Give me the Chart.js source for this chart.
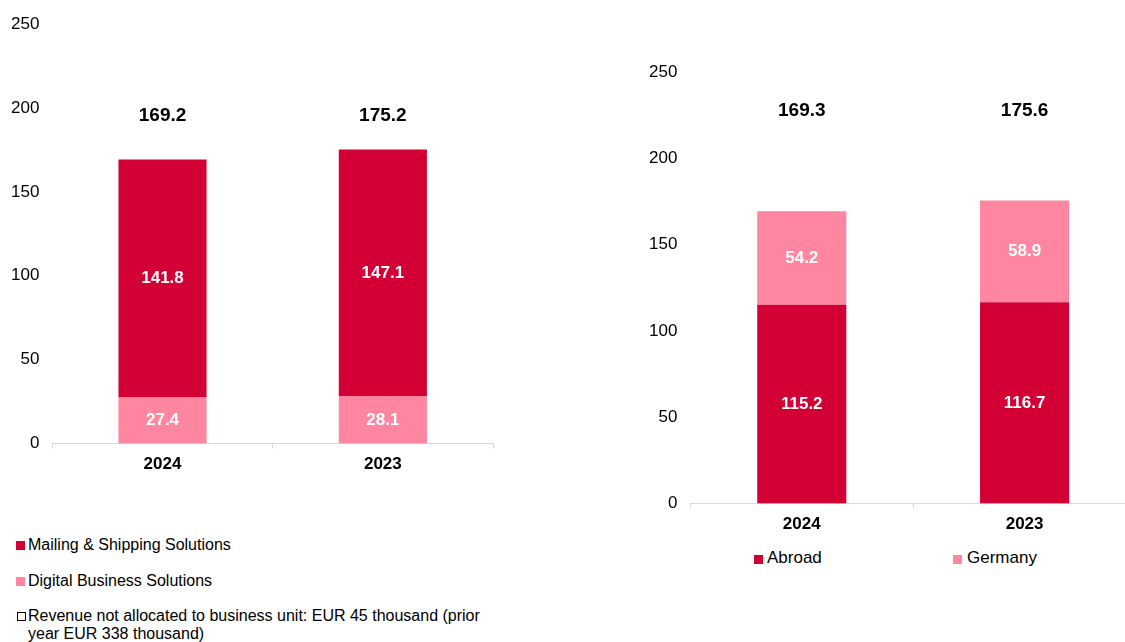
<!DOCTYPE html>
<html>
<head>
<meta charset="utf-8">
<script src="https://cdn.jsdelivr.net/npm/chart.js@4"></script>
<style>
  html, body { margin: 0; padding: 0; background: #fff; overflow: hidden; }
  body { width: 1125px; height: 642px; position: relative; font-family: "Liberation Sans", Arial, sans-serif; color: #000; }
  .box { position: absolute; }
  #leftBox { left: 0; top: 0; width: 500px; height: 482px; }
  #rightBox { left: 630px; top: 0; width: 510px; height: 542px; }
  .legend { position: absolute; line-height: 18px; }
  .legend .item { position: absolute; white-space: nowrap; }
  .legend .sw { position: absolute; width: 9px; height: 9px; }
</style>
</head>
<body>
<div class="box" id="leftBox"><canvas id="segmentChart"></canvas></div>
<div class="box" id="rightBox"><canvas id="regionChart"></canvas></div>

<div class="legend" id="leftLegend" style="left:0;top:0;font-size:16px;">
  <div class="sw" style="left:16px;top:541px;background:#d20034;"></div>
  <div class="item" style="left:28px;top:536px;">Mailing &amp; Shipping Solutions</div>
  <div class="sw" style="left:16px;top:577px;background:#ff86a0;"></div>
  <div class="item" style="left:28px;top:572px;">Digital Business Solutions</div>
  <div class="sw" style="left:17px;top:612px;width:7px;height:7px;border:1px solid #000;"></div>
  <div class="item" style="left:28px;top:607px;white-space:normal;width:470px;">Revenue not allocated to business unit: EUR 45 thousand (prior year EUR 338 thousand)</div>
</div>
<div class="legend" id="rightLegend" style="left:0;top:0;font-size:17px;">
  <div class="sw" style="left:754px;top:555px;background:#d20034;"></div>
  <div class="item" style="left:767px;top:549px;">Abroad</div>
  <div class="sw" style="left:953px;top:555px;background:#ff86a0;"></div>
  <div class="item" style="left:967px;top:549px;">Germany</div>
</div>

<script>
// Revenue by segment / by region, EUR million
const years = ['2024', '2023'];

const mailingShipping = [141.8, 147.1];
const digitalBusiness = [27.4, 28.1];
const segmentTotals = [169.2, 175.2];

const abroad = [115.2, 116.7];
const germany = [54.2, 58.9];
const regionTotals = [169.3, 175.6];

const yTicks = [0, 50, 100, 150, 200, 250];

const DARK = '#d20034';
const PINK = '#ff86a0';
const AXIS = '#d9d9d9';

Chart.defaults.font.family = '"Liberation Sans", Arial, sans-serif';
Chart.defaults.color = '#000';

// white values inside segments + bold totals above the bars
const barLabels = {
    id: 'barLabels',
    afterDatasetsDraw(chart, args, opts) {
        const ctx = chart.ctx;
        ctx.save();
        ctx.textAlign = 'center';
        ctx.textBaseline = 'middle';
        ctx.font = 'bold 17px "Liberation Sans", Arial, sans-serif';
        ctx.fillStyle = '#fff';
        chart.data.datasets.forEach((ds, i) => {
            chart.getDatasetMeta(i).data.forEach((bar, j) => {
                ctx.fillText(ds.data[j].toFixed(1), bar.x, (bar.y + bar.base) / 2);
            });
        });
        ctx.font = 'bold 19px "Liberation Sans", Arial, sans-serif';
        ctx.fillStyle = '#000';
        const yScale = chart.scales.y;
        opts.totals.forEach((t, j) => {
            const x = chart.getDatasetMeta(0).data[j].x;
            ctx.fillText(t.toFixed(1), x, yScale.getPixelForValue(opts.level));
        });
        ctx.restore();
    }
};

function makeOptions(totals, level, padding) {
    return {
        responsive: true,
        maintainAspectRatio: false,
        animation: false,
        layout: { padding },
        plugins: {
            legend: { display: false },
            tooltip: { enabled: false },
            barLabels: { totals, level }
        },
        scales: {
            x: {
                stacked: true,
                grid: { display: true, drawOnChartArea: false, drawTicks: true, tickLength: 5, color: AXIS, offset: true },
                border: { display: true, color: AXIS, width: 1 },
                ticks: { font: { size: 17, weight: 'bold' }, padding: 6 }
            },
            y: {
                stacked: true,
                min: 0,
                max: 250,
                afterBuildTicks: axis => { axis.ticks = yTicks.map(v => ({ value: v })); },
                grid: { display: false },
                border: { display: false },
                ticks: { font: { size: 17 }, padding: 5 }
            }
        }
    };
}

const segmentChart = new Chart(document.getElementById('segmentChart'), {
    type: 'bar',
    data: {
        labels: years,
        datasets: [
            { label: 'Digital Business Solutions', data: digitalBusiness, backgroundColor: PINK, barPercentage: 0.4, categoryPercentage: 1.0 },
            { label: 'Mailing & Shipping Solutions', data: mailingShipping, backgroundColor: DARK, barPercentage: 0.4, categoryPercentage: 1.0 }
        ]
    },
    options: makeOptions(segmentTotals, 195.5, { top: 24, left: 6, right: 7, bottom: 1 }),
    plugins: [barLabels]
});

const regionChart = new Chart(document.getElementById('regionChart'), {
    type: 'bar',
    data: {
        labels: years,
        datasets: [
            { label: 'Abroad', data: abroad, backgroundColor: DARK, barPercentage: 0.4, categoryPercentage: 1.0 },
            { label: 'Germany', data: germany, backgroundColor: PINK, barPercentage: 0.4, categoryPercentage: 1.0 }
        ]
    },
    options: makeOptions(regionTotals, 227.7, { top: 72, left: 14, right: 4, bottom: 1 }),
    plugins: [barLabels]
});
</script>
</body>
</html>
